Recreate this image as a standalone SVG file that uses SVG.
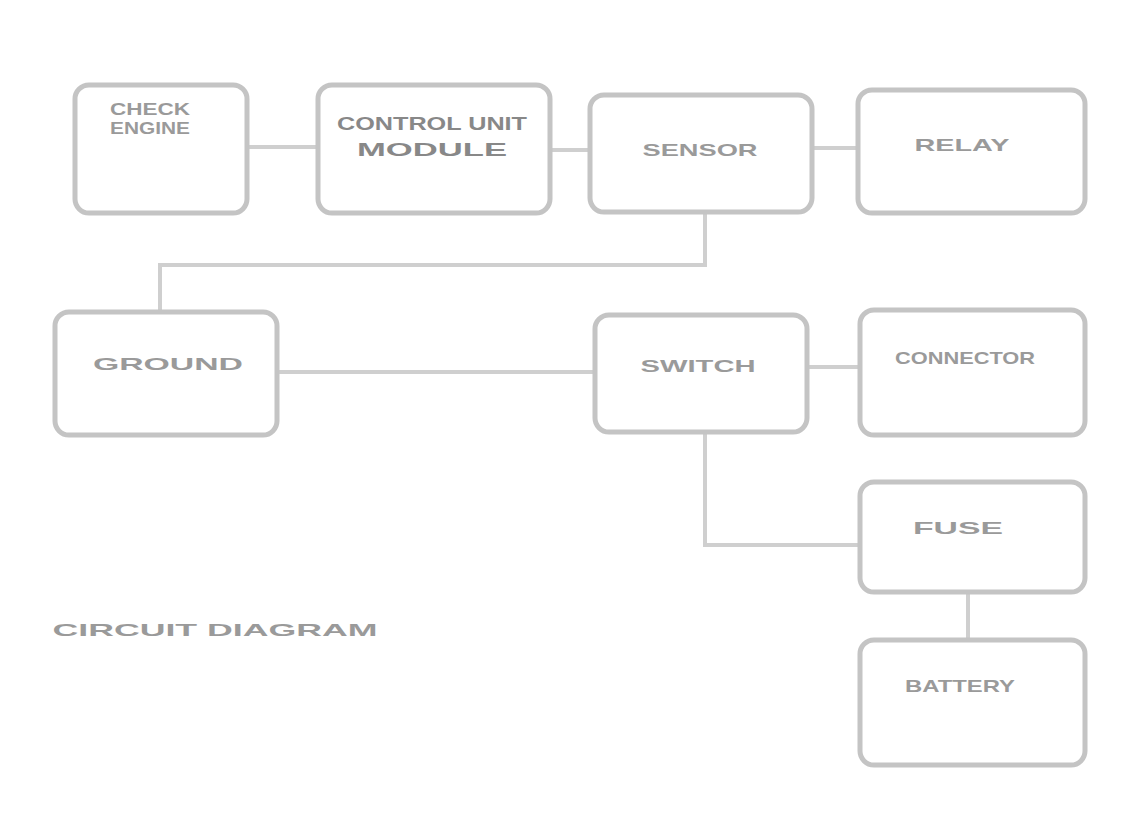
<svg xmlns="http://www.w3.org/2000/svg" width="1122" height="835" viewBox="0 0 1122 835">
<style>
.box{fill:#fff;stroke:#c4c4c4;stroke-width:5}
.ln{fill:none;stroke:#cfcfcf;stroke-width:4}
.t{font-family:"Liberation Sans",Arial,sans-serif;font-weight:bold;fill:#9a9a9a;text-anchor:middle}
.s{font-size:17px}
.b{font-size:19px;fill:#888}
</style>
<rect width="1122" height="835" fill="#fff"/>
<g id="connectors">
<line class="ln" x1="247" y1="147" x2="318" y2="147"/>
<line class="ln" x1="550" y1="150" x2="590" y2="150"/>
<line class="ln" x1="812" y1="148" x2="858" y2="148"/>
<polyline class="ln" points="705,212 705,265 160,265 160,312"/>
<line class="ln" x1="277" y1="372" x2="595" y2="372"/>
<line class="ln" x1="807" y1="367" x2="860" y2="367"/>
<polyline class="ln" points="705,432 705,545 860,545"/>
<line class="ln" x1="968" y1="592" x2="968" y2="640"/>
</g>
<g id="n1"><rect class="box" x="75" y="85" width="172" height="128" rx="14"/><text class="t s" x="150" y="115" textLength="80" lengthAdjust="spacingAndGlyphs">CHECK</text><text class="t s" x="150" y="134" textLength="80" lengthAdjust="spacingAndGlyphs">ENGINE</text></g>
<g id="n2"><rect class="box" x="318" y="85" width="232" height="128" rx="14"/><text class="t b" x="432" y="130" textLength="190" lengthAdjust="spacingAndGlyphs">CONTROL UNIT</text><text class="t b" x="432" y="156" textLength="150" lengthAdjust="spacingAndGlyphs">MODULE</text></g>
<g id="n3"><rect class="box" x="590" y="95" width="222" height="117" rx="14"/><text class="t s" x="700" y="156" textLength="115" lengthAdjust="spacingAndGlyphs">SENSOR</text></g>
<g id="n4"><rect class="box" x="858" y="90" width="227" height="123" rx="14"/><text class="t s" x="962" y="151" textLength="95" lengthAdjust="spacingAndGlyphs">RELAY</text></g>
<g id="n5"><rect class="box" x="55" y="312" width="222" height="123" rx="14"/><text class="t s" x="168" y="370" textLength="150" lengthAdjust="spacingAndGlyphs">GROUND</text></g>
<g id="n6"><rect class="box" x="595" y="315" width="212" height="117" rx="14"/><text class="t s" x="698" y="372" textLength="115" lengthAdjust="spacingAndGlyphs">SWITCH</text></g>
<g id="n7"><rect class="box" x="860" y="310" width="225" height="125" rx="14"/><text class="t s" x="965" y="364" textLength="140" lengthAdjust="spacingAndGlyphs">CONNECTOR</text></g>
<g id="n8"><rect class="box" x="860" y="482" width="225" height="110" rx="14"/><text class="t s" x="958" y="534" textLength="90" lengthAdjust="spacingAndGlyphs">FUSE</text></g>
<g id="n9"><rect class="box" x="860" y="640" width="225" height="125" rx="14"/><text class="t s" x="960" y="692" textLength="110" lengthAdjust="spacingAndGlyphs">BATTERY</text></g>
<text class="t s" x="215" y="636" textLength="325" lengthAdjust="spacingAndGlyphs">CIRCUIT DIAGRAM</text>
</svg>
